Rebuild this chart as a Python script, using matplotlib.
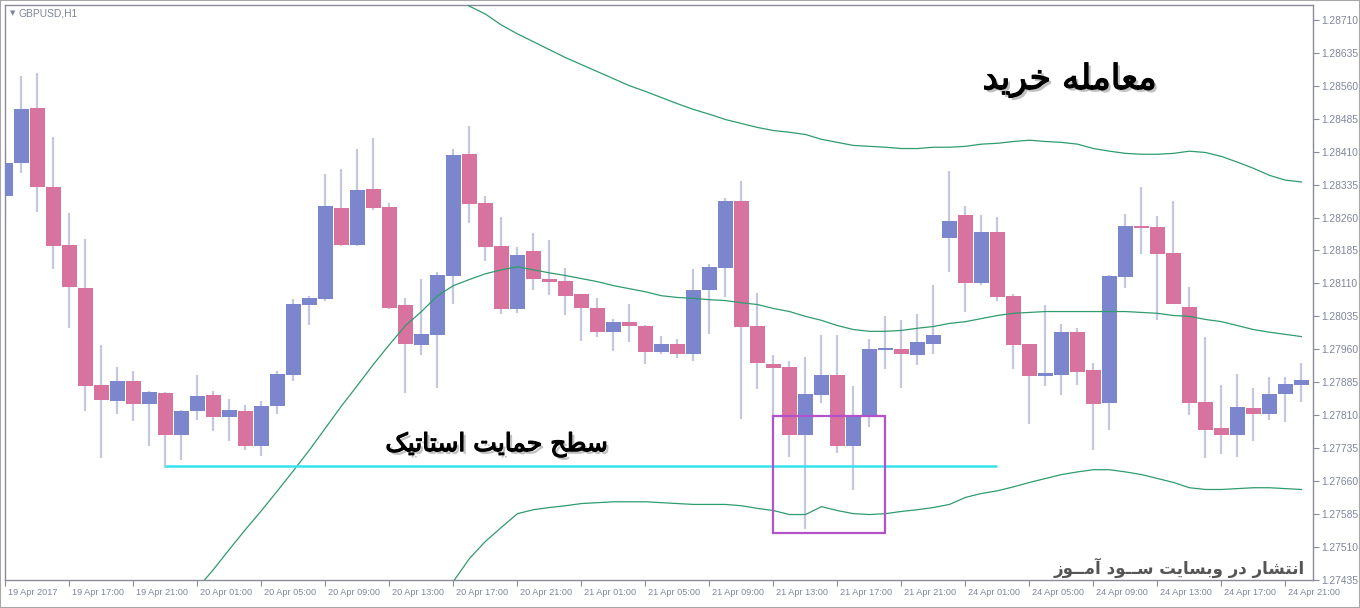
import numpy as np
import matplotlib
matplotlib.use("Agg")
import matplotlib.pyplot as plt
import matplotlib.patheffects as pe
import matplotlib.transforms as mtransforms
from matplotlib.patches import Rectangle

# GBPUSD H1, 19 Apr 13:00 .. 24 Apr 22:00 (one bar per hour, weekend skipped)
opens = [1.28310, 1.28385, 1.28510, 1.28329, 1.28198, 1.28100, 1.27878, 1.27843, 1.27889, 1.27836,
         1.27860, 1.27764, 1.27819, 1.27855, 1.27805, 1.27819, 1.27740, 1.27830, 1.27902, 1.28060,
         1.28074, 1.28282, 1.28198, 1.28325, 1.28284, 1.28062, 1.27969, 1.27992, 1.28128, 1.28405,
         1.28293, 1.28196, 1.28051, 1.28183, 1.28121, 1.28115, 1.28085, 1.28055, 1.27999, 1.28023,
         1.28014, 1.27953, 1.27971, 1.27949, 1.28094, 1.28146, 1.28298, 1.28012, 1.27926, 1.27919,
         1.27766, 1.27856, 1.27901, 1.27741, 1.27806, 1.27958, 1.27960, 1.27946, 1.27971, 1.28214,
         1.28266, 1.28110, 1.28228, 1.28081, 1.27972, 1.27900, 1.27902, 1.27999, 1.27912, 1.27838,
         1.28124, 1.28241, 1.28239, 1.28180, 1.28057, 1.27840, 1.27781, 1.27764, 1.27826, 1.27813,
         1.27859, 1.27879]
highs = [1.28415, 1.28581, 1.28589, 1.28444, 1.28270, 1.28211, 1.27970, 1.27919, 1.27911, 1.27866,
         1.27863, 1.27823, 1.27902, 1.27866, 1.27847, 1.27834, 1.27843, 1.27910, 1.28074, 1.28082,
         1.28359, 1.28370, 1.28417, 1.28440, 1.28293, 1.28076, 1.28121, 1.28135, 1.28417, 1.28468,
         1.28308, 1.28262, 1.28194, 1.28225, 1.28209, 1.28146, 1.28087, 1.28076, 1.28028, 1.28064,
         1.28016, 1.27990, 1.27983, 1.28142, 1.28155, 1.28304, 1.28342, 1.28089, 1.27946, 1.27934,
         1.27943, 1.27992, 1.27992, 1.27876, 1.27983, 1.28036, 1.28026, 1.28040, 1.28106, 1.28366,
         1.28287, 1.28266, 1.28262, 1.28087, 1.27972, 1.28060, 1.28017, 1.28008, 1.27928, 1.28130,
         1.28268, 1.28329, 1.28263, 1.28298, 1.28102, 1.27989, 1.27878, 1.27903, 1.27872, 1.27896,
         1.27896, 1.27928]
lows = [1.28250, 1.28362, 1.28272, 1.28142, 1.28009, 1.27819, 1.27713, 1.27813, 1.27798, 1.27740,
        1.27690, 1.27707, 1.27800, 1.27775, 1.27752, 1.27732, 1.27717, 1.27813, 1.27888, 1.28015,
        1.28069, 1.28196, 1.28196, 1.28278, 1.28051, 1.27860, 1.27946, 1.27873, 1.28064, 1.28248,
        1.28160, 1.28040, 1.28043, 1.28095, 1.28083, 1.28038, 1.27979, 1.27989, 1.27956, 1.27976,
        1.27927, 1.27949, 1.27940, 1.27934, 1.27995, 1.28079, 1.27802, 1.27870, 1.27804, 1.27715,
        1.27551, 1.27838, 1.27724, 1.27639, 1.27783, 1.27915, 1.27872, 1.27924, 1.27949, 1.28137,
        1.28044, 1.28106, 1.28069, 1.27915, 1.27789, 1.27877, 1.27856, 1.27879, 1.27730, 1.27777,
        1.28100, 1.28176, 1.28026, 1.28063, 1.27811, 1.27712, 1.27721, 1.27715, 1.27752, 1.27800,
        1.27794, 1.27839]
closes = [1.28385, 1.28507, 1.28329, 1.28196, 1.28103, 1.27876, 1.27845, 1.27889, 1.27836, 1.27862,
          1.27764, 1.27820, 1.27853, 1.27806, 1.27823, 1.27740, 1.27830, 1.27903, 1.28064, 1.28076,
          1.28287, 1.28198, 1.28323, 1.28282, 1.28055, 1.27971, 1.27994, 1.28130, 1.28402, 1.28291,
          1.28194, 1.28051, 1.28174, 1.28119, 1.28114, 1.28082, 1.28053, 1.27999, 1.28023, 1.28013,
          1.27953, 1.27971, 1.27949, 1.28096, 1.28148, 1.28298, 1.28011, 1.27929, 1.27917, 1.27764,
          1.27858, 1.27901, 1.27741, 1.27806, 1.27960, 1.27962, 1.27949, 1.27976, 1.27992, 1.28251,
          1.28110, 1.28228, 1.28078, 1.27970, 1.27900, 1.27906, 1.27999, 1.27909, 1.27836, 1.28128,
          1.28241, 1.28236, 1.28176, 1.28063, 1.27838, 1.27777, 1.27764, 1.27829, 1.27813, 1.27858,
          1.27881, 1.27890]

nan = np.nan
# bollinger bands (nan where the line is off the chart)
bb_mid = [nan] * 12 + [
    1.27416, 1.27459, 1.27505, 1.27550, 1.27593, 1.27638, 1.27684, 1.27731, 1.27781, 1.27831,
    1.27878, 1.27926, 1.27971, 1.28014, 1.28046, 1.28082, 1.28105, 1.28119, 1.28132, 1.28141,
    1.28148, 1.28141, 1.28134, 1.28128, 1.28121, 1.28114, 1.28105, 1.28098, 1.28091, 1.28082,
    1.28078, 1.28076, 1.28073, 1.28071, 1.28066, 1.28062, 1.28053, 1.28046, 1.28035, 1.28026,
    1.28014, 1.28005, 1.28001, 1.28001, 1.28003, 1.28008, 1.28012, 1.28019, 1.28023, 1.28030,
    1.28037, 1.28042, 1.28044, 1.28046, 1.28046, 1.28046, 1.28046, 1.28046, 1.28046, 1.28044,
    1.28042, 1.28037, 1.28035, 1.28028, 1.28023, 1.28014, 1.28005, 1.27999, 1.27994, 1.27989]
bb_up = [nan] * 27 + [
    1.28791, 1.28766, 1.28741, 1.28723, 1.28698, 1.28678, 1.28660, 1.28642, 1.28624, 1.28608,
    1.28592, 1.28576, 1.28560, 1.28547, 1.28533, 1.28519, 1.28506, 1.28495, 1.28483, 1.28474,
    1.28465, 1.28458, 1.28454, 1.28449, 1.28438, 1.28431, 1.28424, 1.28422, 1.28420, 1.28417,
    1.28417, 1.28420, 1.28420, 1.28422, 1.28427, 1.28429, 1.28433, 1.28436, 1.28433, 1.28431,
    1.28427, 1.28417, 1.28411, 1.28406, 1.28404, 1.28404, 1.28406, 1.28411, 1.28408, 1.28399,
    1.28386, 1.28372, 1.28356, 1.28345, 1.28341]
bb_low = [nan] * 27 + [
    1.27385, 1.27432, 1.27484, 1.27523, 1.27555, 1.27586, 1.27595, 1.27600, 1.27604, 1.27609,
    1.27611, 1.27613, 1.27613, 1.27613, 1.27611, 1.27609, 1.27607, 1.27607, 1.27607, 1.27604,
    1.27598, 1.27593, 1.27584, 1.27584, 1.27602, 1.27593, 1.27586, 1.27584, 1.27586, 1.27591,
    1.27595, 1.27600, 1.27607, 1.27623, 1.27632, 1.27638, 1.27647, 1.27657, 1.27666, 1.27675,
    1.27681, 1.27686, 1.27686, 1.27681, 1.27675, 1.27666, 1.27657, 1.27645, 1.27641, 1.27641,
    1.27643, 1.27645, 1.27645, 1.27643, 1.27641]

time_labels = ["19 Apr 2017", "19 Apr 17:00", "19 Apr 21:00", "20 Apr 01:00", "20 Apr 05:00",
               "20 Apr 09:00", "20 Apr 13:00", "20 Apr 17:00", "20 Apr 21:00", "21 Apr 01:00",
               "21 Apr 05:00", "21 Apr 09:00", "21 Apr 13:00", "21 Apr 17:00", "21 Apr 21:00",
               "24 Apr 01:00", "24 Apr 05:00", "24 Apr 09:00", "24 Apr 13:00", "24 Apr 17:00",
               "24 Apr 21:00"]
price_ticks = [1.27435 + 0.00075 * i for i in range(18)]

support_level = 1.27695
support_from, support_to = 10, 62
box_bars = (48, 55)
box_prices = (1.27541, 1.27808)

title_buy = "معامله خرید"
title_support = "سطح حمایت استاتیک"
title_site = "انتشار در وبسایت ســود آمــوز"

# --- tiny persian shaper: matplotlib has no arabic shaping / bidi
FORMS = {
    '\u0627': ('\uFE8D', '\uFE8E', None, None),
    '\u0622': ('\uFE81', '\uFE82', None, None),
    '\u0628': ('\uFE8F', '\uFE90', '\uFE91', '\uFE92'),
    '\u062A': ('\uFE95', '\uFE96', '\uFE97', '\uFE98'),
    '\u062D': ('\uFEA1', '\uFEA2', '\uFEA3', '\uFEA4'),
    '\u062E': ('\uFEA5', '\uFEA6', '\uFEA7', '\uFEA8'),
    '\u062F': ('\uFEA9', '\uFEAA', None, None),
    '\u0631': ('\uFEAD', '\uFEAE', None, None),
    '\u0632': ('\uFEAF', '\uFEB0', None, None),
    '\u0633': ('\uFEB1', '\uFEB2', '\uFEB3', '\uFEB4'),
    '\u0634': ('\uFEB5', '\uFEB6', '\uFEB7', '\uFEB8'),
    '\u0637': ('\uFEC1', '\uFEC2', '\uFEC3', '\uFEC4'),
    '\u0639': ('\uFEC9', '\uFECA', '\uFECB', '\uFECC'),
    '\u0644': ('\uFEDD', '\uFEDE', '\uFEDF', '\uFEE0'),
    '\u0645': ('\uFEE1', '\uFEE2', '\uFEE3', '\uFEE4'),
    '\u0646': ('\uFEE5', '\uFEE6', '\uFEE7', '\uFEE8'),
    '\u0647': ('\uFEE9', '\uFEEA', '\uFEEB', '\uFEEC'),
    '\u0648': ('\uFEED', '\uFEEE', None, None),
    '\u06A9': ('\uFB8E', '\uFB8F', '\uFB90', '\uFB91'),
    '\u06CC': ('\uFBFC', '\uFBFD', '\uFBFE', '\uFBFF'),
    '\u0640': ('\u0640', '\u0640', '\u0640', '\u0640'),
}


def shape(text):
    out = []
    for i, ch in enumerate(text):
        if ch not in FORMS:
            out.append(ch)
            continue
        iso, fin, ini, med = FORMS[ch]
        prev = text[i - 1] if i > 0 else ''
        nxt = text[i + 1] if i + 1 < len(text) else ''
        jp = prev in FORMS and FORMS[prev][2] is not None
        jn = ini is not None and nxt in FORMS
        if jp and jn:
            out.append(med)
        elif jp:
            out.append(fin)
        elif jn:
            out.append(ini)
        else:
            out.append(iso)
    return ''.join(reversed(out))


bull = '#7B86CC'
bear = '#D8729E'
wick = '#C3C8DF'
band = '#2F9C6C'
axcol = '#8A8C99'
txtcol = '#7D869C'

fig = plt.figure(figsize=(13.6, 6.08), dpi=100)
fig.patch.set_facecolor('white')
ax = fig.add_axes([5 / 1360, 28 / 608, 1308 / 1360, 575 / 608])
ax.set_facecolor('white')

o = np.array(opens)
c = np.array(closes)
x = np.arange(len(o))
cols = [bull if cc >= oo else bear for oo, cc in zip(o, c)]

ax.vlines(x, lows, highs, color=wick, linewidth=1.6, zorder=2)
body = np.where(np.abs(c - o) < 0.00004, 0.00004 * np.sign(c - o + 1e-12), c - o)
ax.bar(x, body, bottom=o, width=0.94, color=cols, linewidth=0, zorder=3)

ax.plot(x, bb_up, color=band, linewidth=0.9, zorder=4)
ax.plot(x, bb_mid, color=band, linewidth=0.9, zorder=4)
ax.plot(x, bb_low, color=band, linewidth=0.9, zorder=4)

ax.hlines(support_level, support_from, support_to, color='#35E3EE', linewidth=1.8, zorder=5)
ax.add_patch(Rectangle((box_bars[0], box_prices[0]), box_bars[1] - box_bars[0],
                       box_prices[1] - box_prices[0], fill=False, edgecolor='#B452CC',
                       linewidth=1.6, zorder=6))

ax.set_xlim(-0.03, 81.72)
ax.set_ylim(1.274413, 1.287437)

for s in ax.spines.values():
    s.set_color(axcol)
    s.set_linewidth(1.0)

ax.yaxis.tick_right()
ax.set_yticks(price_ticks)
ax.set_yticklabels(['%.5f' % p for p in price_ticks])
ax.set_xticks(range(0, 82, 4))
ax.set_xticklabels(time_labels)
ax.tick_params(axis='both', direction='out', length=4, width=0.8, color=axcol,
               labelcolor=txtcol)
ax.tick_params(axis='y', pad=2, labelsize=7.4)
ax.tick_params(axis='x', pad=2, labelsize=6.6)
off = mtransforms.ScaledTranslation(1.5 / 72, 0, fig.dpi_scale_trans)
for lbl in ax.get_xticklabels():
    lbl.set_horizontalalignment('left')
    lbl.set_transform(lbl.get_transform() + off)
    lbl.set_family('Liberation Sans')
for lbl in ax.get_yticklabels():
    lbl.set_family('Liberation Sans')

ax.text(0.004, 0.985, '\u25BC', transform=ax.transAxes, fontsize=5, color=txtcol,
        va='center', ha='left')
ax.text(0.0105, 0.985, 'GBPUSD,H1', transform=ax.transAxes, fontsize=7.4, color=txtcol,
        va='center', ha='left', family='Liberation Sans')

shadow = [pe.SimplePatchShadow(offset=(2, -2), shadow_rgbFace='#777777', alpha=0.45),
          pe.Stroke(linewidth=0.9, foreground='black'), pe.Normal()]
ax.text(66.5, 1.28574, shape(title_buy), fontsize=25, color='black', ha='center', va='center',
        family='DejaVu Sans', path_effects=shadow, zorder=8)
ax.text(30.7, 1.27743, shape(title_support), fontsize=18, color='black', ha='center', va='center',
        family='DejaVu Sans', path_effects=shadow, zorder=8)
ax.text(81.2, 1.27462, shape(title_site), fontsize=12, color='#555555', ha='right', va='center',
        family='DejaVu Sans', weight='bold', zorder=8)

fig.patches.append(Rectangle((0, 0), 1, 1, transform=fig.transFigure, fill=False,
                             edgecolor='#A8A8A8', linewidth=1.5))

fig.savefig('out.png', dpi=100, facecolor='white')
